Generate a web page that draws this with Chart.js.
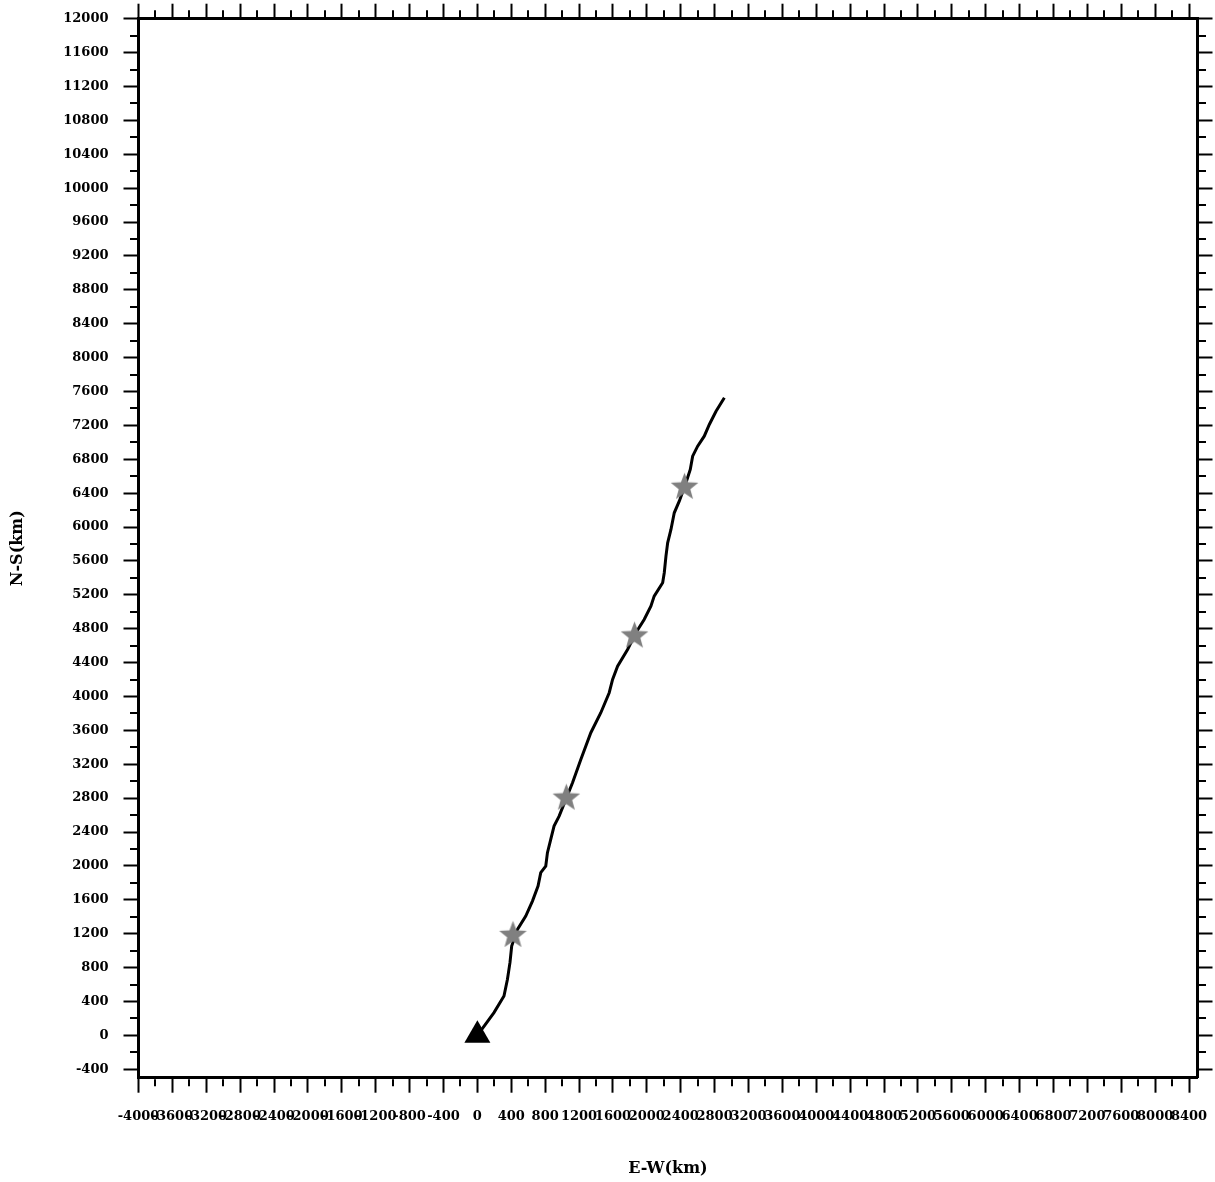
<!DOCTYPE html>
<html>
<head>
<meta charset="utf-8">
<script src="https://cdn.jsdelivr.net/npm/chart.js@4.4.1/dist/chart.umd.min.js"></script>
<style>html,body{margin:0;padding:0;background:#fff;}canvas{display:block;}</style>
</head>
<body>
<canvas id="c" width="1215" height="1182"></canvas>
<script>
// ---- data ----
const trackX = [0, 196, 314, 355, 385, 405, 473, 571, 650, 716, 748, 807, 827, 866, 905, 965, 1044, 1123, 1221, 1339, 1457, 1556, 1596, 1655, 1773, 1871, 1969, 2048, 2087, 2187, 2206, 2226, 2246, 2285, 2324, 2383, 2462, 2513, 2541, 2600, 2678, 2738, 2817, 2915];
const trackY = [0, 268, 464, 661, 861, 1054, 1251, 1408, 1585, 1762, 1920, 1998, 2156, 2313, 2470, 2588, 2785, 2982, 3257, 3572, 3808, 4044, 4201, 4358, 4555, 4752, 4909, 5066, 5184, 5342, 5460, 5656, 5814, 5971, 6168, 6305, 6522, 6679, 6836, 6954, 7072, 7210, 7367, 7525];
const starX = [420, 1050, 1855, 2445];
const starY = [1180, 2800, 4715, 6470];
const startX = [0];
const startY = [0];
const xTicks = [-4000, -3600, -3200, -2800, -2400, -2000, -1600, -1200, -800, -400, 0, 400, 800, 1200, 1600, 2000, 2400, 2800, 3200, 3600, 4000, 4400, 4800, 5200, 5600, 6000, 6400, 6800, 7200, 7600, 8000, 8400];
const yTicks = [-400, 0, 400, 800, 1200, 1600, 2000, 2400, 2800, 3200, 3600, 4000, 4400, 4800, 5200, 5600, 6000, 6400, 6800, 7200, 7600, 8000, 8400, 8800, 9200, 9600, 10000, 10400, 10800, 11200, 11600, 12000];
const xRange = [-4000, 8500];
const yRange = [-500, 12000];
const xTitle = 'E-W(km)';
const yTitle = 'N-S(km)';

// ---- helpers ----
function makeStar(R, color) {
  const s = Math.ceil(R * 2) + 2;
  const c = document.createElement('canvas');
  c.width = s; c.height = s;
  const g = c.getContext('2d');
  g.fillStyle = color;
  g.beginPath();
  for (let i = 0; i < 10; i++) {
    const rr = (i % 2) ? R * 0.42 : R;
    const a = -Math.PI / 2 + i * Math.PI / 5;
    const px = s / 2 + rr * Math.cos(a), py = s / 2 + rr * Math.sin(a);
    if (i === 0) g.moveTo(px, py); else g.lineTo(px, py);
  }
  g.closePath();
  g.fill();
  return c;
}
const toPts = (xs, ys) => xs.map((x, i) => ({x: x, y: ys[i]}));
const mids = arr => arr.slice(1).map((v, i) => (v + arr[i]) / 2);

const BORDER = 3, MAJOR = 15, MINOR = 7;

const minorTicks = {
  id: 'minorTicks',
  afterDraw(chart) {
    const ctx = chart.ctx, a = chart.chartArea;
    const h = BORDER / 2;
    ctx.save();
    ctx.strokeStyle = '#000';
    ctx.lineWidth = 2;
    ctx.beginPath();
    mids(xTicks).forEach(v => {
      const p = Math.round(chart.scales.x.getPixelForValue(v));
      ctx.moveTo(p, a.bottom + h); ctx.lineTo(p, a.bottom + h + MINOR);
      ctx.moveTo(p, a.top - h); ctx.lineTo(p, a.top - h - MINOR);
    });
    mids(yTicks).forEach(v => {
      const p = Math.round(chart.scales.y.getPixelForValue(v));
      ctx.moveTo(a.left - h, p); ctx.lineTo(a.left - h - MINOR, p);
      ctx.moveTo(a.right + h, p); ctx.lineTo(a.right + h + MINOR, p);
    });
    ctx.stroke();
    ctx.restore();
  }
};

Chart.defaults.font.family = '"DejaVu Serif", serif';
Chart.defaults.font.weight = 'bold';
Chart.defaults.font.size = 13;
Chart.defaults.color = '#000';

function gridOpts() {
  return {drawOnChartArea: false, drawTicks: true, tickLength: MAJOR, tickWidth: 2, tickColor: '#000', color: '#000'};
}
function borderOpts() {
  return {display: true, width: BORDER, color: '#000'};
}
function fixSize(prop, val) {
  return s => {
    s[prop] = val;
    s.paddingLeft = 0; s.paddingRight = 0; s.paddingTop = 0; s.paddingBottom = 0;
  };
}

new Chart(document.getElementById('c'), {
  type: 'scatter',
  data: {
    datasets: [
      {
        label: 'start',
        data: toPts(startX, startY),
        pointStyle: 'triangle',
        pointRadius: 15,
        backgroundColor: '#000',
        borderColor: '#000',
        borderWidth: 0,
        order: 0
      },
      {
        label: 'marks',
        data: toPts(starX, starY),
        pointStyle: makeStar(14.5, '#808080'),
        pointRadius: 15,
        order: 1
      },
      {
        label: 'track',
        data: toPts(trackX, trackY),
        showLine: true,
        borderColor: '#000',
        borderWidth: 3,
        pointRadius: 0,
        fill: false,
        tension: 0,
        order: 2
      }
    ]
  },
  options: {
    responsive: false,
    animation: false,
    devicePixelRatio: 1,
    layout: {padding: 0},
    plugins: {legend: {display: false}, tooltip: {enabled: false}},
    scales: {
      x: {
        type: 'linear', position: 'bottom', min: xRange[0], max: xRange[1],
        afterBuildTicks: s => { s.ticks = xTicks.map(v => ({value: v})); },
        afterFit: fixSize('height', 104.3),
        ticks: {autoSkip: false, maxRotation: 0, minRotation: 0, padding: 16, callback: v => String(v)},
        grid: gridOpts(), border: borderOpts(),
        title: {display: true, text: xTitle, font: {size: 16, weight: 'bold'}, padding: {top: 0, bottom: 4}}
      },
      y: {
        type: 'linear', position: 'left', min: yRange[0], max: yRange[1],
        afterBuildTicks: s => { s.ticks = yTicks.map(v => ({value: v})); },
        afterFit: fixSize('width', 138.5),
        ticks: {autoSkip: false, padding: 15, callback: v => String(v)},
        grid: gridOpts(), border: borderOpts(),
        title: {display: true, text: yTitle, font: {size: 16, weight: 'bold'}, padding: {top: 8, bottom: 0}}
      },
      x2: {
        type: 'linear', position: 'top', min: xRange[0], max: xRange[1],
        afterBuildTicks: s => { s.ticks = xTicks.map(v => ({value: v})); },
        afterFit: fixSize('height', 18.7),
        ticks: {display: false},
        grid: gridOpts(), border: borderOpts()
      },
      y2: {
        type: 'linear', position: 'right', min: yRange[0], max: yRange[1],
        afterBuildTicks: s => { s.ticks = yTicks.map(v => ({value: v})); },
        afterFit: fixSize('width', 17.5),
        ticks: {display: false},
        grid: gridOpts(), border: borderOpts()
      }
    }
  },
  plugins: [minorTicks]
});
</script>
</body>
</html>
